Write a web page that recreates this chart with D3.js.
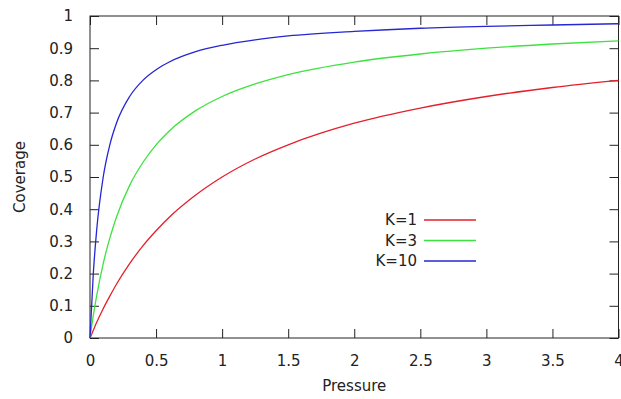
<html>
<head>
<style>
  body { margin: 0; background: #fff; }
  text { font-family: "DejaVu Sans", sans-serif; font-size: 15px; fill: #222; }
  .line { fill: none; stroke-width: 1.3; }
</style>
<script src="https://cdn.jsdelivr.net/npm/d3@7"></script>
</head>
<body>
<svg id="chart" width="621" height="399"></svg>
<script>
// pressure sample points and coverage
const pressure = [0, 0.025, 0.05, 0.1, 0.15, 0.2, 0.3, 0.4, 0.5, 0.6, 0.8, 1, 1.25, 1.5, 2, 2.5, 3, 3.5, 4]
const covK1  = [0, 0.024, 0.048, 0.091, 0.13, 0.167, 0.231, 0.286, 0.333, 0.375, 0.444, 0.5, 0.556, 0.6, 0.667, 0.714, 0.75, 0.778, 0.8]
const covK3  = [0, 0.07, 0.13, 0.231, 0.31, 0.375, 0.474, 0.545, 0.6, 0.643, 0.706, 0.75, 0.789, 0.818, 0.857, 0.882, 0.9, 0.913, 0.923]
const covK10 = [0, 0.2, 0.333, 0.5, 0.6, 0.667, 0.75, 0.8, 0.833, 0.857, 0.889, 0.909, 0.926, 0.938, 0.952, 0.962, 0.968, 0.972, 0.976]
const seriesNames = ["K=1", "K=3", "K=10"]
const xTicks = [0, 0.5, 1, 1.5, 2, 2.5, 3, 3.5, 4]
const yTicks = [0, 0.1, 0.2, 0.3, 0.4, 0.5, 0.6, 0.7, 0.8, 0.9, 1]

const colors = ["#e3202c", "#3ee23e", "#2626d2"]
const svg = d3.select("#chart")

const x = d3.scaleLinear().domain([0, 4]).range([90, 618.5])
const y = d3.scaleLinear().domain([0, 1]).range([338, 16])
const tk = 9

// frame
svg.append("rect")
  .attr("x", x(0)).attr("y", y(1))
  .attr("width", x(4) - x(0)).attr("height", y(0) - y(1))
  .attr("fill", "none").attr("stroke", "#222").attr("stroke-width", 1)

// bottom + left axes with inward ticks
const fmt = d => d3.format("")(d)
svg.append("g")
  .attr("transform", "translate(0," + y(0) + ")")
  .call(d3.axisBottom(x).tickValues(xTicks).tickSize(-tk).tickPadding(tk + 8).tickFormat(fmt))
  .call(g => g.select(".domain").remove())
svg.append("g")
  .attr("transform", "translate(" + x(0) + ",0)")
  .call(d3.axisLeft(y).tickValues(yTicks).tickSize(-tk).tickPadding(tk + 8).tickFormat(fmt))
  .call(g => g.select(".domain").remove())
// mirrored ticks top + right
svg.append("g")
  .attr("transform", "translate(0," + y(1) + ")")
  .call(d3.axisTop(x).tickValues(xTicks).tickSize(-tk).tickFormat(""))
  .call(g => g.select(".domain").remove())
svg.append("g")
  .attr("transform", "translate(" + x(4) + ",0)")
  .call(d3.axisRight(y).tickValues(yTicks).tickSize(-tk).tickFormat(""))
  .call(g => g.select(".domain").remove())

svg.selectAll(".tick line").attr("stroke", "#222")
svg.selectAll(".tick text").style("font-size", "15px").attr("fill", "#222").style("font-family", "DejaVu Sans")

// axis titles
svg.append("text").attr("x", x(2)).attr("y", 391).attr("text-anchor", "middle").text("Pressure")
svg.append("text").attr("transform", "translate(25," + y(0.5) + ") rotate(-90)")
  .attr("text-anchor", "middle").text("Coverage")

// curves
const series = [covK1, covK3, covK10]
const valueline = d3.line()
  .x((d, i) => x(pressure[i]))
  .y(d => y(d))
  .curve(d3.curveMonotoneX)

series.forEach((s, i) => {
  svg.append("path").datum(s).attr("class", "line")
    .attr("stroke", colors[i]).attr("d", valueline)
})

// legend
seriesNames.forEach((name, i) => {
  const ly = 220 + i * 20.5
  svg.append("text").attr("x", 417).attr("y", ly + 5).attr("text-anchor", "end").text(name)
  svg.append("line").attr("x1", 424).attr("x2", 476).attr("y1", ly).attr("y2", ly)
    .attr("stroke", colors[i]).attr("stroke-width", 1.3)
})
</script>
</body>
</html>
